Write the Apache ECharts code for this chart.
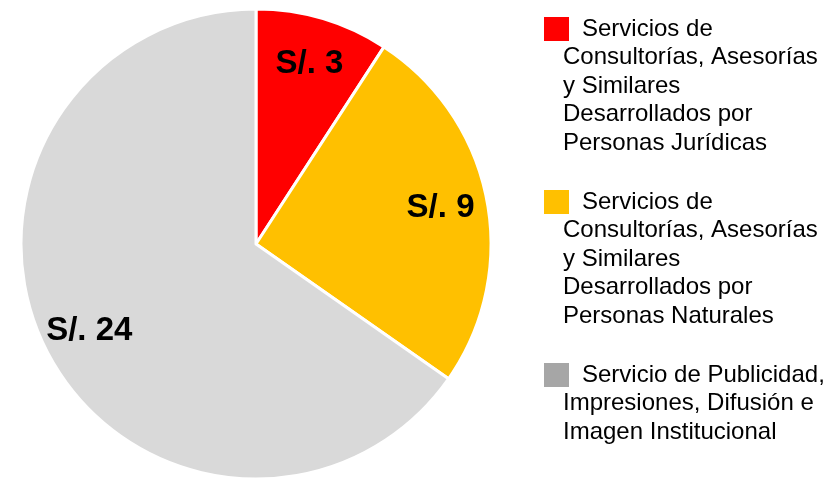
<!DOCTYPE html>
<html>
<head>
<meta charset="utf-8">
<script src="https://cdn.jsdelivr.net/npm/echarts@6/dist/echarts.min.js"></script>
<style>
  html, body { margin: 0; padding: 0; background: #fff; }
  #chart { width: 835px; height: 479px; }
</style>
</head>
<body>
<div id="chart"></div>
<script>
  // categorias (con los saltos de linea de la leyenda)
  var categories = [
    'Servicios de\nConsultorías, Asesorías\ny Similares\nDesarrollados por\nPersonas Jurídicas',
    'Servicios de\nConsultorías, Asesorías\ny Similares\nDesarrollados por\nPersonas Naturales',
    'Servicio de Publicidad,\nImpresiones, Difusión e\nImagen Institucional'
  ];
  // montos en S/. (etiquetas redondeadas: 3, 9, 24)
  var values = [3.3, 9.2, 23.5];
  var labelPrefix = 'S/. ';

  var pieColors = ['#FF0000', '#FFC000', '#D9D9D9'];
  var legendColors = ['#FF0000', '#FFC000', '#A6A6A6'];

  var pieData = [];
  for (var i = 0; i < categories.length; i++) {
    pieData.push({ name: categories[i], value: values[i], itemStyle: { color: pieColors[i] } });
  }

  var rich = {
    t: { fontSize: 24, lineHeight: 28.5, color: '#000', fontFamily: 'Liberation Sans, Arial' },
    g: { width: 13, height: 24, lineHeight: 28.5 },
    ind: { width: 19, height: 24, lineHeight: 28.5 }
  };
  for (var k = 0; k < legendColors.length; k++) {
    rich['s' + k] = { width: 25, height: 24, lineHeight: 28.5, backgroundColor: legendColors[k] };
  }

  var myChart = echarts.init(document.getElementById('chart'));
  myChart.setOption({
    animation: false,
    legend: {
      orient: 'vertical',
      left: 534,
      top: 12,
      itemGap: 35,
      itemWidth: 0,
      itemHeight: 0,
      icon: 'none',
      selectedMode: false,
      data: categories,
      textStyle: { rich: rich },
      formatter: function (name) {
        var idx = categories.indexOf(name);
        var lines = name.split('\n');
        var out = '{s' + idx + '| }{g| }{t|' + lines[0] + '}';
        for (var j = 1; j < lines.length; j++) {
          out += '\n{ind| }{t|' + lines[j] + '}';
        }
        return out;
      }
    },
    series: [
      {
        type: 'pie',
        center: [256, 244],
        radius: 235,
        startAngle: 90,
        clockwise: true,
        silent: true,
        label: { show: false },
        labelLine: { show: false },
        itemStyle: { borderColor: '#fff', borderWidth: 3 },
        data: pieData
      },
      {
        // solo para las etiquetas
        type: 'pie',
        center: [256, 244],
        radius: [135, 235],
        startAngle: 90,
        clockwise: true,
        silent: true,
        itemStyle: { color: 'rgba(0,0,0,0)' },
        label: {
          show: true,
          position: 'inside',
          color: '#000',
          fontSize: 33,
          fontWeight: 'bold',
          fontFamily: 'Liberation Sans, Arial',
          formatter: function (p) {
            return labelPrefix + Math.round(p.value);
          }
        },
        labelLine: { show: false },
        data: pieData.map(function (d) { return { name: d.name, value: d.value }; })
      }
    ]
  });
</script>
</body>
</html>
